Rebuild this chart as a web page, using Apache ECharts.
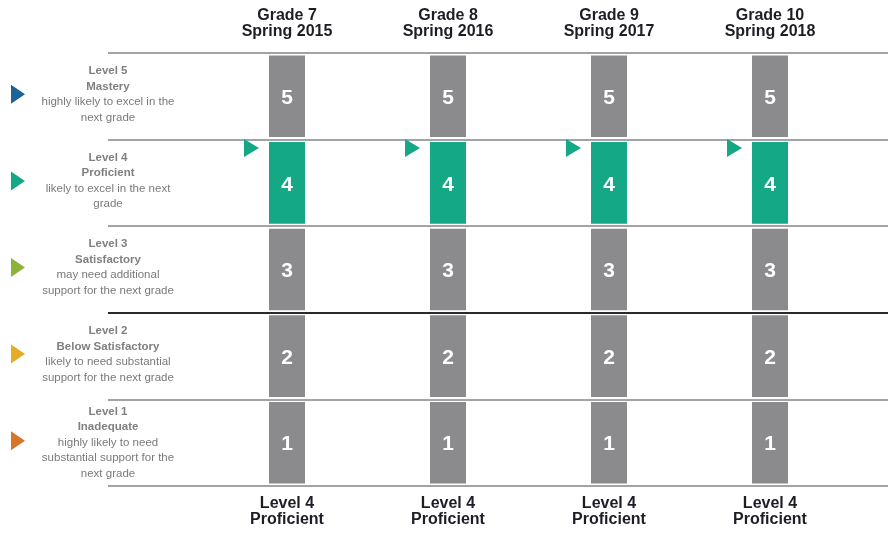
<!DOCTYPE html>
<html>
<head>
<meta charset="utf-8">
<script src="https://cdn.jsdelivr.net/npm/echarts@6/dist/echarts.min.js"></script>
<style>html,body{margin:0;padding:0;background:#fff}#c{width:888px;height:549px}</style>
</head>
<body>
<div id="c"></div>
<script>
// ---- data ----
const grades = ['Grade 7\nSpring 2015', 'Grade 8\nSpring 2016', 'Grade 9\nSpring 2017', 'Grade 10\nSpring 2018'];
const resultLevels = [4, 4, 4, 4];
const resultLabels = ['Level 4\nProficient', 'Level 4\nProficient', 'Level 4\nProficient', 'Level 4\nProficient'];
const levels = [1, 2, 3, 4, 5];
const levelNames = ['Inadequate', 'Below Satisfactory', 'Satisfactory', 'Proficient', 'Mastery'];
const levelDescs = [
  ['highly likely to need', 'substantial support for the', 'next grade'],
  ['likely to need substantial', 'support for the next grade'],
  ['may need additional', 'support for the next grade'],
  ['likely to excel in the next', 'grade'],
  ['highly likely to excel in the', 'next grade']
];
const levelColors = ['#d4772a', '#e6ac27', '#8cb43b', '#14a887', '#1b6399'];

const FONT = '"Liberation Sans", Arial, Helvetica, sans-serif';
const GRAY = '#8b8b8e';
const GREEN = '#14a887';

const cellData = [];
grades.forEach((g, gi) => {
  levels.forEach((lv, li) => {
    cellData.push([gi, li, lv, resultLevels[gi] === lv ? 1 : 0]);
  });
});
const markerData = resultLevels.map((lv, gi) => [gi, levels.indexOf(lv)]);
const arrowData = levels.map((lv, li) => [0, li]);

const chart = echarts.init(document.getElementById('c'), null, {renderer: 'canvas'});
chart.setOption({
  animation: false,
  backgroundColor: '#fff',
  grid: [
    {left: 108, right: 0, top: 53, bottom: 63, containLabel: false, outerBoundsMode: 'none'},
    {left: 206.5, width: 644, top: 53, bottom: 63, containLabel: false, outerBoundsMode: 'none'}
  ],
  xAxis: [
    {gridIndex: 0, type: 'value', min: 0, max: 1, show: false},
    {gridIndex: 1, type: 'category', data: grades, position: 'top',
      axisLine: {show: false}, axisTick: {show: false},
      axisLabel: {margin: 13, fontFamily: FONT, fontWeight: 'bold', fontSize: 16, lineHeight: 16, color: '#1d1d26'}},
    {gridIndex: 1, type: 'category', data: resultLabels, position: 'bottom',
      axisLine: {show: false}, axisTick: {show: false},
      axisLabel: {margin: 10, fontFamily: FONT, fontWeight: 'bold', fontSize: 16, lineHeight: 16, color: '#1d1d26'}}
  ],
  yAxis: [
    {gridIndex: 0, type: 'category',
      data: levels.map((lv, i) => ({value: 'Level ' + lv, textStyle: {align: 'center', verticalAlign: 'middle',
        padding: levelDescs[i].length === 2 ? [0, 0, 4, 0] : [0, 0, 0, 0]}})),
      axisLine: {show: false}, axisTick: {show: false},
      splitLine: {show: true, lineStyle: {color: ['#a3a3a3', '#a3a3a3', '#2a2a2a', '#a3a3a3', '#a3a3a3', '#a3a3a3'], width: 2}},
      axisLabel: {
        margin: 0, align: 'center', verticalAlign: 'middle',
        formatter: (v, i) => {
          const lines = ['{b|Level ' + levels[i] + '}', '{b|' + levelNames[i] + '}'];
          levelDescs[i].forEach(d => lines.push('{n|' + d + '}'));
          return lines.join('\n');
        },
        rich: {
          b: {fontFamily: FONT, fontWeight: 'bold', fontSize: 11.5, lineHeight: 15.5, color: '#808080', align: 'center'},
          n: {fontFamily: FONT, fontSize: 11.5, lineHeight: 15.5, color: '#7a7a7a', align: 'center'}
        }
      }},
    {gridIndex: 1, type: 'category', data: levels.map(l => 'Level ' + l), show: false}
  ],
  series: [
    {
      type: 'custom', name: 'cells', xAxisIndex: 1, yAxisIndex: 1, data: cellData,
      renderItem: (params, api) => {
        const c = api.coord([api.value(0), api.value(1)]);
        const h = api.size([1, 1])[1];
        const w = 36;
        return {type: 'group', children: [
          {type: 'rect', shape: {x: c[0] - w / 2, y: c[1] - h / 2 + 2.5, width: w, height: h - 5},
            style: {fill: api.value(3) ? GREEN : GRAY}},
          {type: 'text', style: {text: String(api.value(2)), x: c[0], y: c[1] + 2, align: 'center', verticalAlign: 'middle',
            fill: '#fff', fontFamily: FONT, fontWeight: 'bold', fontSize: 21}}
        ]};
      }
    },
    {
      type: 'custom', name: 'marker', xAxisIndex: 1, yAxisIndex: 1, data: markerData,
      renderItem: (params, api) => {
        const c = api.coord([api.value(0), api.value(1)]);
        const h = api.size([1, 1])[1];
        const x0 = c[0] - 43, yc = c[1] - h / 2 + 8.5;
        return {type: 'polygon', shape: {points: [[x0, yc - 9], [x0, yc + 9], [x0 + 15, yc]]}, style: {fill: GREEN}};
      }
    },
    {
      type: 'custom', name: 'levelArrows', xAxisIndex: 0, yAxisIndex: 0, data: arrowData, clip: false,
      renderItem: (params, api) => {
        const c = api.coord([api.value(0), api.value(1)]);
        const x0 = c[0] - 97, yc = c[1] - 2;
        return {type: 'polygon', shape: {points: [[x0, yc - 9.5], [x0, yc + 9.5], [x0 + 14, yc]]},
          style: {fill: levelColors[api.value(1)]}};
      }
    }
  ]
});
</script>
</body>
</html>
